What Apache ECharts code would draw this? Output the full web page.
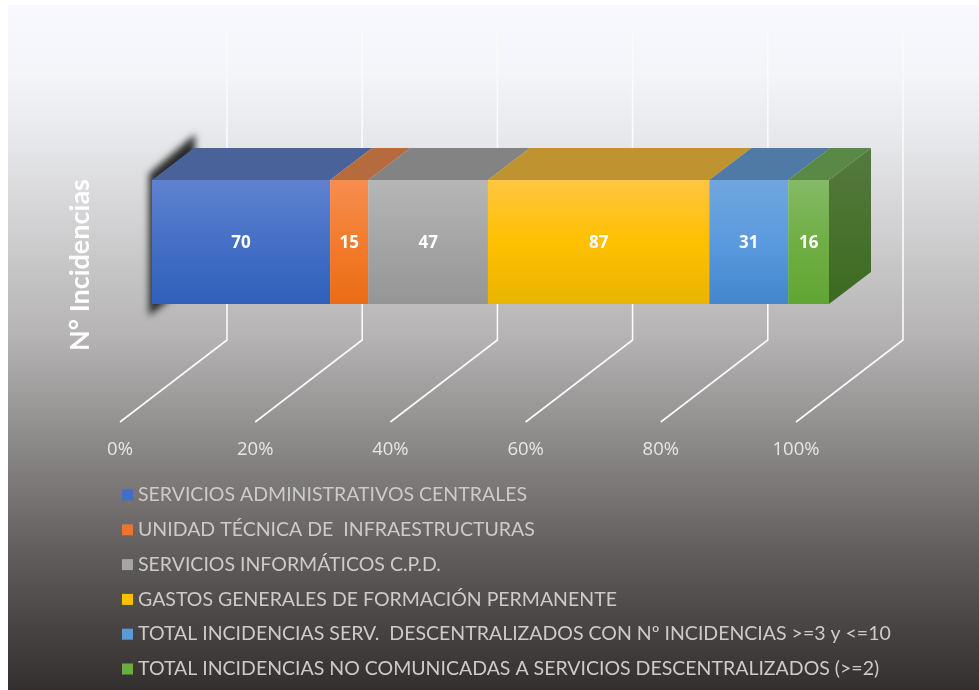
<!DOCTYPE html>
<html><head><meta charset="utf-8">
<style>html,body{margin:0;padding:0;background:#fff}#c{width:979px;height:690px}</style>
<script src="https://cdn.jsdelivr.net/npm/echarts@6/dist/echarts.min.js"></script>
</head><body><div id="c"></div>
<script>
const categories = ['N° Incidencias'];
const seriesNames = [
  'SERVICIOS ADMINISTRATIVOS CENTRALES',
  'UNIDAD TÉCNICA DE  INFRAESTRUCTURAS',
  'SERVICIOS INFORMÁTICOS C.P.D.',
  'GASTOS GENERALES DE FORMACIÓN PERMANENTE',
  'TOTAL INCIDENCIAS SERV.  DESCENTRALIZADOS CON Nº INCIDENCIAS >=3 y <=10',
  'TOTAL INCIDENCIAS NO COMUNICADAS A SERVICIOS DESCENTRALIZADOS (>=2)'
];
const seriesValues = [70, 15, 47, 87, 31, 16];
const tickValues = [0, 20, 40, 60, 80, 100];
const frontTop = ['#5f82d0','#f68d50','#b6b6b6','#ffc643','#70a6df','#84ba66'];
const frontMid = ['#4570c6','#f27c2c','#a5a5a5','#ffc000','#5a9ade','#6fae44'];
const frontBot = ['#2f60ba','#ea6c15','#959595','#e8b500','#4286cb','#60a632'];
const topFace  = ['#49629a','#b66b3f','#838383','#bf9430','#4f7aa6','#5a8845'];
const legendColors = ['#3f6fc8','#ed7431','#a5a5a5','#ffc000','#5b9bd5','#6aae42'];

const total = seriesValues.reduce((a,b)=>a+b,0);
const DX = 42, DY = 32;           // bar depth
const FX = 107, FY = 82, WALL = 310; // wall/floor depth
const OFF = 3000;                 // draws the blurred shadow only
const grad = (stops)=>new echarts.graphic.LinearGradient(0,0,0,1,stops);

let cum = 0;
const segments = seriesValues.map((v,i)=>{const s=[cum,cum+v,i];cum+=v;return s;});

const barSeries = seriesNames.map((n,i)=>({
  name:n, type:'bar', stack:'a', xAxisIndex:1, yAxisIndex:1,
  barWidth:'100%', z:6, data:[seriesValues[i]],
  itemStyle:{color:grad([{offset:0,color:frontTop[i]},{offset:.5,color:frontMid[i]},{offset:1,color:frontBot[i]}])},
  label:{show:true,position:'inside',offset:[0,1],color:'#fff',fontFamily:'Open Sans',fontWeight:'bold',fontSize:17,formatter:'{c}'},
  emphasis:{disabled:true}
}));

const option = {
  animation:false,
  backgroundColor:'#fff',
  textStyle:{fontFamily:'Lato'},
  graphic:[{type:'rect',left:8,top:5,z:-1,silent:true,
    shape:{width:971,height:685},
    style:{fill:grad([{offset:0,color:'#f7f9fe'},{offset:.1,color:'#f4f5f9'},{offset:.2,color:'#e6e7ea'},{offset:.48,color:'#b6b4b4'},{offset:.62,color:'#918e8e'},{offset:.8,color:'#615d5d'},{offset:1,color:'#332f2f'}])}
  }],
  grid:[
    {left:120,width:676,top:108,height:314},
    {left:152,width:677,top:180,height:124}
  ],
  xAxis:[
    {type:'value',gridIndex:0,min:0,max:100,interval:20,
      axisLine:{show:false},axisTick:{show:false},splitLine:{show:false},
      axisLabel:{margin:18,color:'#e6e6e6',fontFamily:'Open Sans',fontSize:18.5,formatter:'{value}%'}},
    {type:'value',gridIndex:1,min:0,max:total,show:false}
  ],
  yAxis:[
    {type:'value',gridIndex:0,min:0,max:1,
      axisLine:{show:false},axisTick:{show:false},splitLine:{show:false},axisLabel:{show:false},
      name:categories[0],nameLocation:'middle',nameGap:26,nameRotate:90,
      nameTextStyle:{color:'#fff',fontFamily:'Lato',fontWeight:'bold',fontSize:27}},
    {type:'category',gridIndex:1,data:categories,show:false}
  ],
  legend:{
    orient:'vertical',left:117,top:480,itemWidth:11,itemHeight:11,itemGap:14.8,icon:'rect',
    selectedMode:false,
    data:seriesNames.map((n,i)=>({name:n,itemStyle:{color:legendColors[i]}})),
    textStyle:{color:'#cdcaca',fontFamily:'Lato',fontSize:19.5,lineHeight:20}
  },
  series:[
    {type:'custom',xAxisIndex:0,yAxisIndex:0,z:1,silent:true,data:tickValues.map(v=>[v]),
      renderItem:(p,api)=>{
        const a=api.coord([api.value(0),0]);
        return {type:'polyline',shape:{points:[a,[a[0]+FX,a[1]-FY],[a[0]+FX,a[1]-FY-WALL]]},
          style:{stroke:'#fbfbfb',lineWidth:1.6,fill:null}};
      }},
    {type:'custom',xAxisIndex:1,yAxisIndex:1,z:2,silent:true,clip:false,data:[[0]],
      renderItem:(p,api)=>{
        const x=api.coord([api.value(0),0])[0]-OFF, y=p.coordSys.y, h=p.coordSys.height;
        return {type:'polygon',shape:{points:[[x-3,y-6],[x+43,y-46],[x+43,y+100],[x-3,y+h+12]]},
          style:{fill:'#222',shadowBlur:7,shadowColor:'#2a2a2a',shadowOffsetX:OFF}};
      }},
    {type:'custom',xAxisIndex:1,yAxisIndex:1,z:4,silent:true,data:segments,clip:false,
      renderItem:(p,api)=>{
        const x0=api.coord([api.value(0),0])[0], x1=api.coord([api.value(1),0])[0], y=p.coordSys.y;
        return {type:'polygon',shape:{points:[[x0,y],[x0+DX,y-DY],[x1+DX,y-DY],[x1,y]]},
          style:{fill:topFace[api.value(2)]}};
      }},
    {type:'custom',xAxisIndex:1,yAxisIndex:1,z:4,silent:true,data:[[total]],clip:false,
      renderItem:(p,api)=>{
        const x=api.coord([api.value(0),0])[0], y=p.coordSys.y, h=p.coordSys.height;
        return {type:'polygon',shape:{points:[[x,y],[x+DX,y-DY],[x+DX,y-DY+h],[x,y+h]]},
          style:{fill:grad([{offset:0,color:'#557a3e'},{offset:1,color:'#3c6a1f'}])}};
      }},
    ...barSeries
  ]
};
echarts.init(document.getElementById('c')).setOption(option);
</script></body></html>
